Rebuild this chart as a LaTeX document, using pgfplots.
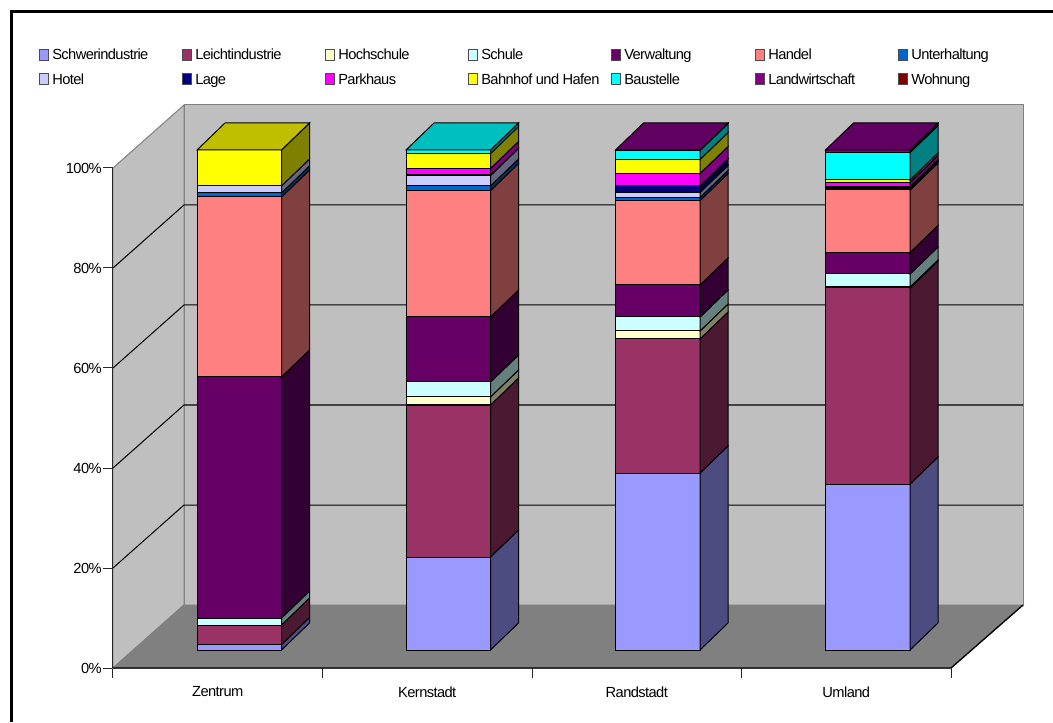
\documentclass[border=0pt]{standalone}
\usepackage{pgfplots}
\usepackage{pgfplotstable}
\usepackage{fontspec}
\pgfplotsset{compat=1.18}
\setmainfont{Liberation Sans}[LetterSpace=-4]

% Share of each land use per city zone, in percent
\pgfplotstableread{
Nutzung Zentrum Kernstadt Randstadt Umland
0  1.1 18.6 35.4 33.2
1  3.9 30.4 26.8 39.2
2  0.0  1.6  1.6  0.2
3  1.4  3.0  2.8  2.6
4 48.2 13.0  6.4  4.3
5 36.0 25.3 16.9 12.5
6  0.8  0.9  0.6  0.2
7  1.4  2.1  1.0  0.2
8  0.0  0.1  1.3  0.3
9  0.0  1.3  2.5  0.8
10 7.2  3.0  2.8  0.5
11 0.0  0.7  1.8  5.5
12 0.0  0.0  0.1  0.5
13 0.0  0.0  0.0  0.0
}\shares

% Front colour, side face (half brightness) and top face (three quarters)
\newcommand\mkcolor[2]{\definecolor{c#1}{HTML}{#2}\colorlet{s#1}{c#1!50!black}\colorlet{t#1}{c#1!75!black}}
\mkcolor{0}{9999FF}\mkcolor{1}{993366}\mkcolor{2}{FFFFCC}\mkcolor{3}{CCFFFF}
\mkcolor{4}{660066}\mkcolor{5}{FF8080}\mkcolor{6}{0066CC}\mkcolor{7}{CCCCFF}
\mkcolor{8}{000080}\mkcolor{9}{FF00FF}\mkcolor{10}{FFFF00}\mkcolor{11}{00FFFF}
\mkcolor{12}{800080}\mkcolor{13}{800000}

% Column depth in axis units
\def\dx{28}
\def\dy{5.4}
% Height of the column foot above the front floor edge
\def\base{3.6}

% One stacked column: #1 table column, #2 left edge
\newcommand\drawstack[2]{%
  \pgfmathsetmacro\xa{#2}%
  \pgfmathsetmacro\xb{#2+84.5}%
  \pgfmathsetmacro\xc{#2+84.5+\dx}%
  \pgfmathsetmacro\xd{#2+\dx}%
  \xdef\lo{\base}%
  \foreach \i in {0,...,13}{%
    \pgfplotstablegetelem{\i}{#1}\of\shares
    \let\val\pgfplotsretval
    \ifdim\val pt>0pt
      \pgfmathsetmacro\hi{\lo+\val}%
      \pgfmathsetmacro\loB{\lo+\dy}%
      \pgfmathsetmacro\hiB{\hi+\dy}%
      \edef\temp{%
        \noexpand\addplot[draw=black,line width=0.75pt,fill=c\i,mark=none]
          coordinates {(\xa,\lo)(\xb,\lo)(\xb,\hi)(\xa,\hi)} -- cycle;
        \noexpand\addplot[draw=black,line width=0.75pt,fill=s\i,mark=none]
          coordinates {(\xb,\lo)(\xc,\loB)(\xc,\hiB)(\xb,\hi)} -- cycle;
      }\temp
      \xdef\lo{\hi}%
      \xdef\lastc{\i}%
    \fi
  }%
  \pgfmathsetmacro\hiB{\lo+\dy}%
  \edef\temp{%
    \noexpand\addplot[draw=black,line width=0.75pt,fill=t\lastc,mark=none]
      coordinates {(\xa,\lo)(\xb,\lo)(\xc,\hiB)(\xd,\hiB)} -- cycle;
  }\temp
}

\begin{document}
\begin{tikzpicture}[x=0.75pt,y=0.75pt]
\path[use as bounding box,fill=white] (0,0) rectangle (1053,722);
\begin{axis}[
  at={(84.75pt,40.5pt)},anchor=south west,
  scale only axis,width=682.5pt,height=422.25pt,
  xmin=0,xmax=910,ymin=0,ymax=112.6,
  clip=false,
  axis line style={draw=none},
  xtick={0,209.5,419,628.5,838},
  x tick label as interval,
  xticklabels={Zentrum,Kernstadt,Randstadt,Umland},
  ytick={0,20,40,60,80,100},
  yticklabels={0\%,20\%,40\%,60\%,80\%,100\%},
  xtick pos=bottom,ytick pos=left,
  tick align=outside,
  major tick length=7.5pt,
  tick style={draw=black!85,line width=0.75pt},
  ticklabel style={font=\fontsize{11}{13}\selectfont},
  xticklabel style={yshift=-3pt},
  yticklabel style={xshift=2.5pt},
]
% Walls and floor of the plot box
\addplot[fill=black!25,draw=gray,line width=0.75pt,mark=none]
  coordinates {(71,12.6)(910,12.6)(910,112.6)(71,112.6)} -- cycle;
\addplot[fill=black!25,draw=gray,line width=0.75pt,mark=none]
  coordinates {(0,0)(71,12.6)(71,112.6)(0,100)} -- cycle;
\addplot[fill=gray,draw=gray,line width=0.75pt,mark=none]
  coordinates {(0,0)(838,0)(910,12.6)(71,12.6)} -- cycle;
% Gridlines, along the side wall and across the back wall
\addplot[black,line width=0.75pt,mark=none] coordinates {(0,20)(71,32.6)(910,32.6)};
\addplot[black,line width=0.75pt,mark=none] coordinates {(0,40)(71,52.6)(910,52.6)};
\addplot[black,line width=0.75pt,mark=none] coordinates {(0,60)(71,72.6)(910,72.6)};
\addplot[black,line width=0.75pt,mark=none] coordinates {(0,80)(71,92.6)(910,92.6)};
% Front edges of the box
\addplot[black!85,line width=0.75pt,mark=none] coordinates {(0,0)(0,100)};
\addplot[black,line width=1pt,mark=none] coordinates {(0,0)(838,0)(910,12.6)};
% Columns
\drawstack{Zentrum}{84}
\drawstack{Kernstadt}{293}
\drawstack{Randstadt}{502.5}
\drawstack{Umland}{712.5}
\end{axis}
% Outer frame on the left and top
\draw[black,line width=2.25pt] (11.5,0) -- (11.5,710.5) -- (1053,710.5);
% Legend in two rows of seven
\foreach \x/\n/\lab in {39/0/Schwerindustrie,182/1/Leichtindustrie,325/2/Hochschule,468/3/Schule,611/4/Verwaltung,755/5/Handel,898/6/Unterhaltung}{
  \draw[black!70,line width=0.75pt,fill=c\n] (\x,661.5) rectangle ++(9.5,11);
  \node[anchor=base west,inner sep=0pt,font=\fontsize{11}{13}\selectfont] at (\x+13,662) {\lab};
}
\foreach \x/\n/\lab in {39/7/Hotel,182/8/Lage,325/9/Parkhaus,468/10/Bahnhof und Hafen,611/11/Baustelle,755/12/Landwirtschaft,898/13/Wohnung}{
  \draw[black!70,line width=0.75pt,fill=c\n] (\x,637) rectangle ++(9.5,11);
  \node[anchor=base west,inner sep=0pt,font=\fontsize{11}{13}\selectfont] at (\x+13,637.5) {\lab};
}
\end{tikzpicture}
\end{document}
